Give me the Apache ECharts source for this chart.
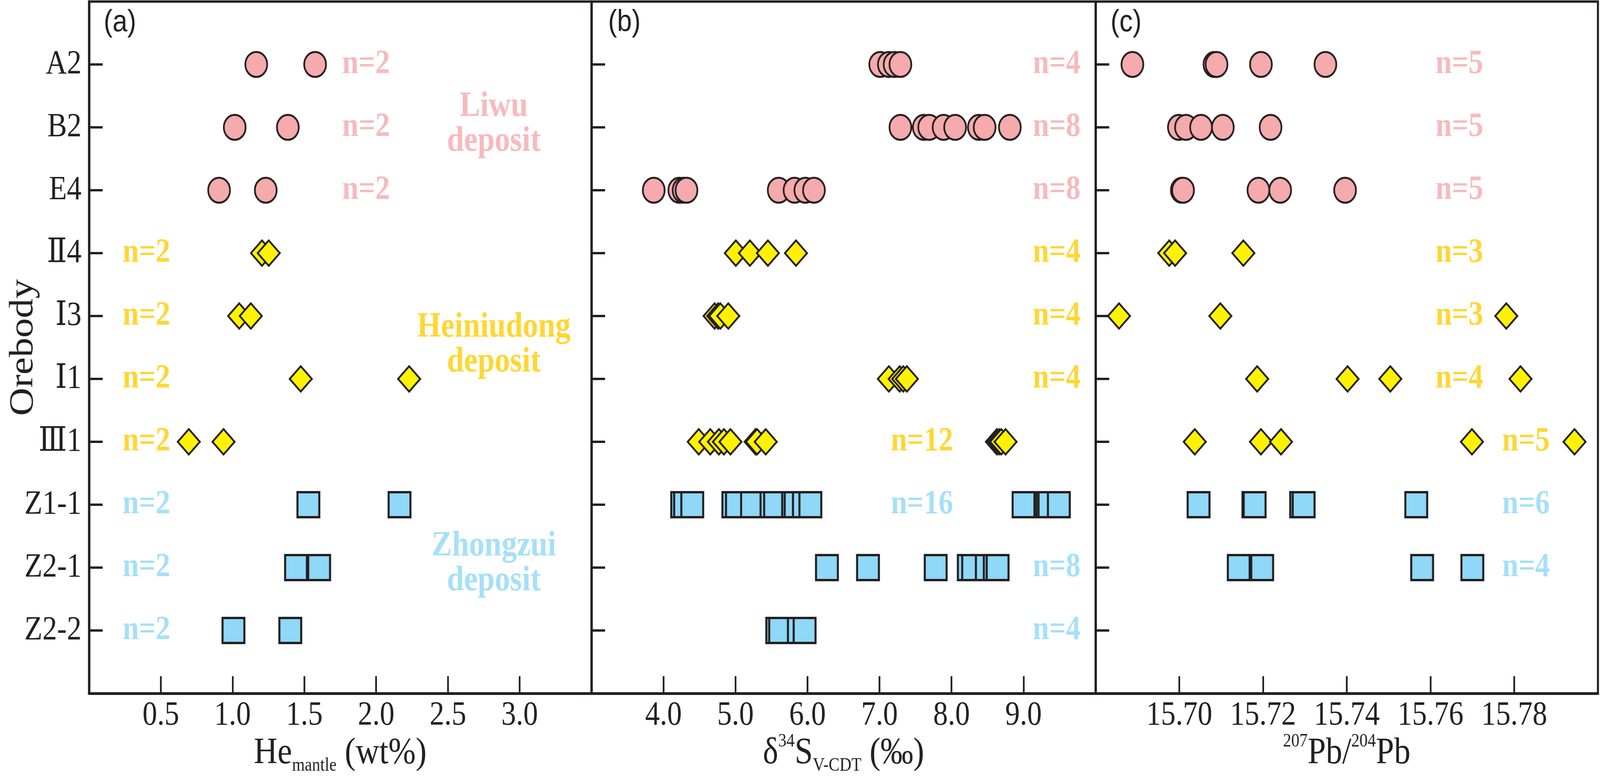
<!DOCTYPE html>
<html>
	<head>
		<meta charset="utf-8">
		<script src="https://cdn.jsdelivr.net/npm/echarts@6.0.0/dist/echarts.min.js"></script>
		<style>
			html, body { margin: 0; padding: 0; background: #fff; overflow: hidden; }
		</style>
	</head>
	<body>
		<div id="main" style="width:4691px;height:2007px;transform-origin:0 0;"></div>

		<script>
			// orebodies, top to bottom
			var orebodies = ['A2', 'B2', 'E4', 'Ⅱ4', 'Ⅰ3', 'Ⅰ1', 'Ⅲ1', 'Z1-1', 'Z2-1', 'Z2-2'];
			// deposit of each orebody: 0 Liwu, 1 Heiniudong, 2 Zhongzui
			var depositOf = [0, 0, 0, 1, 1, 1, 1, 2, 2, 2];
			var depositNames = ['Liwu\ndeposit', 'Heiniudong\ndeposit', 'Zhongzui\ndeposit'];

			// (a) He mantle (wt%)
			var heMantle = [
				[1.165, 1.575],
				[1.015, 1.385],
				[0.906, 1.231],
				[1.205, 1.252],
				[1.046, 1.127],
				[1.475, 2.230],
				[0.695, 0.937],
				[1.528, 2.163],
				[1.442, 1.603],
				[1.006, 1.402]
			];
			// (b) d34S V-CDT (permil)
			var d34S = [
				[7.01, 7.13, 7.21, 7.29],
				[7.29, 7.615, 7.69, 7.89, 8.05, 8.38, 8.46, 8.81],
				[3.865, 4.22, 4.28, 4.32, 5.60, 5.82, 5.97, 6.09],
				[5.005, 5.20, 5.45, 5.84],
				[4.71, 4.76, 4.79, 4.90],
				[7.13, 7.28, 7.33, 7.38],
				[4.49, 4.65, 4.77, 4.84, 4.93, 5.28, 5.30, 5.42, 8.63, 8.66, 8.69, 8.75],
				[4.26, 4.30, 4.40, 4.97, 5.02, 5.23, 5.50, 5.55, 5.80, 5.835, 5.95, 6.04, 9.00, 9.33, 9.36, 9.49],
				[6.27, 6.84, 7.78, 8.24, 8.30, 8.49, 8.60, 8.64],
				[5.58, 5.62, 5.88, 5.96]
			];
			// (c) 207Pb/204Pb
			var pb207 = [
				[15.6888, 15.7084, 15.7089, 15.7195, 15.7349],
				[15.6999, 15.7016, 15.7052, 15.7104, 15.7218],
				[15.7006, 15.7009, 15.7189, 15.7241, 15.7396],
				[15.6976, 15.6990, 15.7153],
				[15.6856, 15.7098, 15.7781],
				[15.7186, 15.7402, 15.7504, 15.7815],
				[15.7037, 15.7195, 15.7243, 15.7699, 15.7944],
				[15.7046, 15.7177, 15.7180, 15.7291, 15.7297, 15.7566],
				[15.7142, 15.7198, 15.7580, 15.7700],
				[]
			];

			// where the "n=" counts sit, in axis units
			var nLabelA = [1.93, 1.93, 1.93, 0.40, 0.40, 0.40, 0.40, 0.40, 0.40, 0.40];
			var nLabelB = [9.46, 9.46, 9.46, 9.46, 9.46, 9.46, 7.59, 7.59, 9.46, 9.46];
			var nLabelC = [15.7669, 15.7669, 15.7669, 15.7669, 15.7669, 15.7669, 15.7828, 15.7828, 15.7828, 15.7828];
			// deposit captions in panel (a): [x, y]
			var depositLabelPos = [[2.82, 9.05], [2.82, 5.54], [2.82, 2.06]];

			// x axes: min, max, interval, decimals
			var xMin = [0, 3, 15.68];
			var xMax = [3.5, 10, 15.80];
			var xStep = [0.5, 1, 0.02];
			var xDigits = [1, 1, 2];

			var ink = '#231f20';
			var serif = "'Liberation Serif', 'DejaVu Serif', 'Times New Roman', serif";
			var markers = [
				{symbol: 'circle', size: 64, fill: '#f5aaac', bw: 5},
				{symbol: 'diamond', size: 65, fill: '#fff200', bw: 5},
				{symbol: 'rect', size: 64, fill: '#8fd8f7', bw: 6}
			];
			var textColors = ['#f5a9ab', '#ffcc00', '#8fd8f7'];

			var panels = [heMantle, d34S, pb207];
			var nLabels = [nLabelA, nLabelB, nLabelC];
			var lefts = [261, 1734, 3212];
			var widths = [1473, 1478, 1473];

			function yOf(i) {
				return orebodies.length - i;
			}

			var grids = [], xAxes = [], yAxes = [], series = [];
			var rich = {
				t: {fontFamily: serif, fontSize: 96, lineHeight: 110, color: ink},
				s: {fontFamily: serif, fontSize: 48, lineHeight: 38, verticalAlign: 'bottom', color: ink},
				p: {fontFamily: serif, fontSize: 48, lineHeight: 68, verticalAlign: 'top', color: ink}
			};
			var xNames = [
				'{t|He}{s|mantle}{t| (wt%)}',
				'{t|δ}{p|34}{t|S}{s|V-CDT}{t| (‰)}',
				'{p|207}{t|Pb/}{p|204}{t|Pb}'
			];

			for (var p = 0; p < 3; p++) {
				grids.push({
					left: lefts[p], width: widths[p], top: 4, height: 1771,
					show: true, borderColor: ink, borderWidth: 6,
					outerBoundsMode: 'none'
				});
				(function (p) {
					xAxes.push({
						gridIndex: p, type: 'value',
						min: xMin[p], max: xMax[p], interval: xStep[p],
						name: xNames[p], nameLocation: 'middle', nameGap: 99, nameMoveOverlap: false,
						nameTextStyle: {rich: rich},
						axisLine: {lineStyle: {color: ink, width: 7}},
						axisTick: {inside: true, length: 44, lineStyle: {color: ink, width: 5}},
						splitLine: {show: false},
						axisLabel: {
							showMinLabel: false, showMaxLabel: false,
							margin: 57, lineHeight: 86, verticalAlign: 'middle',
							fontFamily: serif, fontSize: 86, color: ink,
							formatter: function (v) { return v.toFixed(xDigits[p]); }
						}
					});
				})(p);
				yAxes.push({
					gridIndex: p, type: 'value',
					min: 0, max: 11, interval: 1,
					name: p === 0 ? 'Orebody' : '',
					nameLocation: 'middle', nameRotate: 90, nameGap: 142, nameMoveOverlap: false,
					nameTextStyle: {fontFamily: serif, fontSize: 100, lineHeight: 100, color: ink},
					axisLine: {lineStyle: {color: ink, width: 7}},
					axisTick: {inside: true, length: 40, lineStyle: {color: ink, width: 6}},
					splitLine: {show: false},
					axisLabel: {
						show: p === 0, margin: 22,
						fontFamily: serif, fontSize: 86, color: ink,
						formatter: function (v) {
							var i = orebodies.length - v;
							return (i >= 0 && i < orebodies.length) ? orebodies[i] : '';
						}
					}
				});

				// markers, one series per deposit
				for (var d = 0; d < 3; d++) {
					var pts = [];
					for (var i = 0; i < orebodies.length; i++) {
						if (depositOf[i] !== d) continue;
						for (var k = 0; k < panels[p][i].length; k++) {
							pts.push([panels[p][i][k], yOf(i)]);
						}
					}
					series.push({
						type: 'scatter', xAxisIndex: p, yAxisIndex: p,
						symbol: markers[d].symbol, symbolSize: markers[d].size,
						itemStyle: {color: markers[d].fill, borderColor: ink, borderWidth: markers[d].bw, opacity: 1},
						data: pts, z: 2, silent: true
					});
				}

				// n= counts
				var counts = [];
				for (var i = 0; i < orebodies.length; i++) {
					if (panels[p][i].length === 0) continue;
					counts.push({
						name: 'n=' + panels[p][i].length,
						value: [nLabels[p][i], yOf(i)],
						label: {color: textColors[depositOf[i]]}
					});
				}
				series.push({
					type: 'scatter', xAxisIndex: p, yAxisIndex: p,
					symbolSize: 0, data: counts, z: 3, silent: true,
					label: {
						show: true, position: 'inside', formatter: '{b}',
						fontFamily: serif, fontSize: 86, fontWeight: 'bold'
					}
				});
			}

			// deposit captions in panel (a)
			var captions = [];
			for (var d = 0; d < depositNames.length; d++) {
				captions.push({name: depositNames[d], value: depositLabelPos[d], label: {color: textColors[d]}});
			}
			series.push({
				type: 'scatter', xAxisIndex: 0, yAxisIndex: 0,
				symbolSize: 0, data: captions, z: 3, silent: true,
				label: {
					show: true, position: 'inside', formatter: '{b}', align: 'center',
					fontFamily: serif, fontSize: 90, lineHeight: 89, fontWeight: 'bold'
				}
			});

			var panelTags = ['(a)', '(b)', '(c)'];
			var tagLefts = [304, 1783, 3256];
			var titles = [];
			for (var p = 0; p < 3; p++) {
				titles.push({
					text: panelTags[p], left: tagLefts[p], top: 19, padding: 0,
					textStyle: {fontFamily: "'Liberation Sans', Arial, sans-serif", fontSize: 78, lineHeight: 78, fontWeight: 'normal', color: ink}
				});
			}

			// the browser window may be narrower than the figure: squeeze it to fit
			var box = document.getElementById('main');
			var sx = window.innerWidth / 4691;
			if (sx < 1) {
				box.style.transform = 'scaleX(' + sx + ')';
			}

			var option = {
				animation: false,
				backgroundColor: '#fff',
				title: titles,
				grid: grids,
				xAxis: xAxes,
				yAxis: yAxes,
				series: series
			};
			var myChart = echarts.init(box);
			myChart.setOption(option, true);
		</script>
	</body>
</html>
